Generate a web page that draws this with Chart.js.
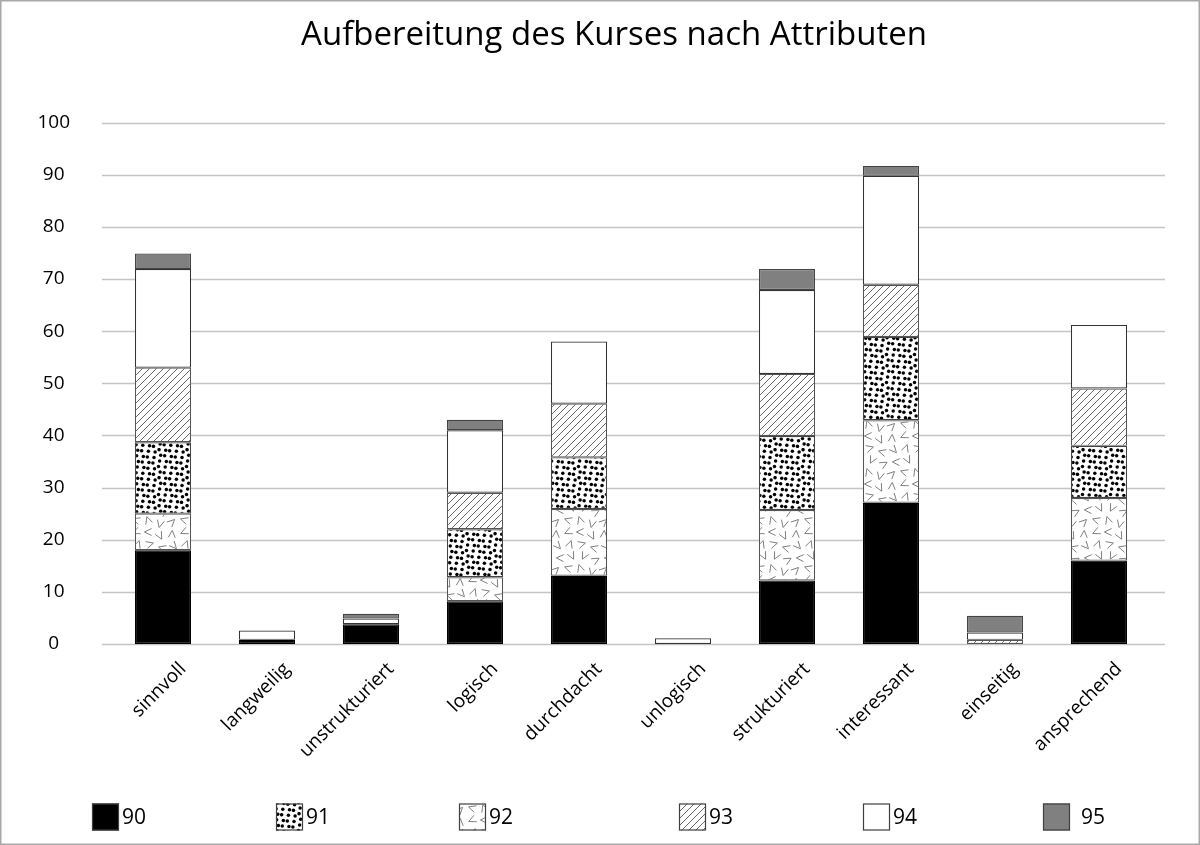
<!DOCTYPE html>
<html><head><meta charset="utf-8">
<script src="https://cdn.jsdelivr.net/npm/chart.js@4.4.1/dist/chart.umd.min.js"></script>
<style>html,body{margin:0;padding:0;background:#fff;} canvas{display:block}</style>
</head><body>
<canvas id="c" width="1200" height="845"></canvas>
<script>
const chartTitle = 'Aufbereitung des Kurses nach Attributen';
const categories = ['sinnvoll','langweilig','unstrukturiert','logisch','durchdacht','unlogisch','strukturiert','interessant','einseitig','ansprechend'];
const yTickValues = [0,10,20,30,40,50,60,70,80,90,100];
const s90 = [18, 0.8, 3.8, 8.2, 13.1, null, 12.2, 27.1, null, 16];
const s91 = [13.7, null, null, 9.2, 9.9, null, 14.2, 16, null, 10];
const s92 = [7, null, null, 4.6, 12.8, null, 13.5, 15.8, null, 12];
const s93 = [14.3, null, null, 7, 10.3, null, 11.9, 10, 0.8, 11];
const s94 = [18.9, 1.8, 1.1, 12, 11.9, 1.1, 16.1, 20.9, 1.4, 12.2];
const s95 = [3, null, 0.9, 2, null, null, 4, 1.9, 3.2, null];

const FONT = "'Open Sans', 'DejaVu Sans', sans-serif";

function tile(w, h, draw) {
  const c = document.createElement('canvas');
  c.width = w; c.height = h;
  const g = c.getContext('2d');
  g.fillStyle = '#fff'; g.fillRect(0, 0, w, h);
  draw(g, w, h);
  return c;
}
const ctx = document.getElementById('c').getContext('2d');

const dotPattern = ctx.createPattern(tile(28, 28, (g) => {
  g.fillStyle = '#000';
  for (let i = 0; i < 5; i++) for (let j = 0; j < 5; j++) {
    const jx = ((i * 7 + j * 13) % 5 - 2) * 0.55;
    const jy = ((i * 11 + j * 5 + 2) % 5 - 2) * 0.55;
    g.beginPath();
    g.arc(2.8 + i * 5.6 + jx, 2.8 + j * 5.6 + jy, 1.75, 0, Math.PI * 2);
    g.fill();
  }
}), 'repeat');

const chevronPattern = ctx.createPattern(tile(48, 48, (g, w, h) => {
  g.strokeStyle = '#707070'; g.lineWidth = 0.9;
  for (let i = 0; i < 4; i++) for (let j = 0; j < 4; j++) {
    const cx = 6 + i * 12 + ((i * 3 + j * 7) % 3 - 1) * 2;
    const cy = 6 + j * 12 + ((i * 5 + j * 3) % 3 - 1) * 2;
    const th = (((i * 5 + j * 3) % 8) * 45 + (i * 17 + j * 29) % 30) * Math.PI / 180;
    const a = 0.45, L = 8;
    const x0 = cx - L * 0.45 * Math.cos(th), y0 = cy - L * 0.45 * Math.sin(th);
    for (let ox = -w; ox <= w; ox += w) for (let oy = -h; oy <= h; oy += h) {
      g.beginPath();
      g.moveTo(x0 + ox + L * Math.cos(th - a), y0 + oy + L * Math.sin(th - a));
      g.lineTo(x0 + ox, y0 + oy);
      g.lineTo(x0 + ox + L * Math.cos(th + a), y0 + oy + L * Math.sin(th + a));
      g.stroke();
    }
  }
}), 'repeat');

const hatchPattern = ctx.createPattern(tile(7, 7, (g) => {
  g.strokeStyle = '#555'; g.lineWidth = 0.9;
  g.beginPath();
  g.moveTo(0, 7); g.lineTo(7, 0);
  g.moveTo(-1, 1); g.lineTo(1, -1);
  g.moveTo(6, 8); g.lineTo(8, 6);
  g.stroke();
}), 'repeat');

// stacking order as in the picture: 90 bottom, then 92, 91, 93, 94, 95
const datasets = [
  { label: '90', data: s90, backgroundColor: '#000000', borderColor: '#000000' },
  { label: '92', data: s92, backgroundColor: chevronPattern, borderColor: '#555555' },
  { label: '91', data: s91, backgroundColor: dotPattern, borderColor: '#444444' },
  { label: '93', data: s93, backgroundColor: hatchPattern, borderColor: '#555555' },
  { label: '94', data: s94, backgroundColor: '#ffffff', borderColor: '#333333' },
  { label: '95', data: s95, backgroundColor: '#808080', borderColor: '#444444' }
].map(d => Object.assign(d, { borderWidth: 1.2, borderSkipped: false, barPercentage: 1, categoryPercentage: 0.54 }));

const gridPlugin = {
  id: 'extGrid',
  beforeDatasetsDraw(chart) {
    const y = chart.scales.y, a = chart.chartArea, c = chart.ctx;
    c.save();
    c.strokeStyle = '#c4c4c4'; c.lineWidth = 1.4;
    y.ticks.forEach(t => {
      const py = Math.round(y.getPixelForValue(t.value)) + 0.5;
      c.beginPath(); c.moveTo(a.left - 9, py); c.lineTo(a.right + 14, py); c.stroke();
    });
    c.restore();
  }
};

const legendX = [92, 276, 459, 679, 863, 1043];
const legendPlugin = {
  id: 'spreadLegend',
  afterDraw(chart) {
    const c = chart.ctx;
    const items = chart.data.datasets.slice().sort((p, q) => Number(p.label) - Number(q.label));
    c.save();
    c.font = '21px ' + FONT;
    c.textBaseline = 'middle'; c.textAlign = 'left';
    items.forEach((ds, i) => {
      const x = legendX[i], yc = 817, s = 27;
      c.fillStyle = ds.backgroundColor;
      c.fillRect(x, yc - s / 2, s, s);
      c.strokeStyle = '#404040'; c.lineWidth = 1.2;
      c.strokeRect(x + 0.5, yc - s / 2 + 0.5, s - 1, s - 1);
      c.fillStyle = '#000';
      c.fillText(ds.label, x + s + (ds.label === '95' ? 11 : 3), yc + 1);
    });
    c.strokeStyle = '#a8a8a8'; c.lineWidth = 1.5;
    c.strokeRect(0.75, 0.75, chart.width - 1.5, chart.height - 1.5);
    c.restore();
  }
};

new Chart(ctx, {
  type: 'bar',
  data: { labels: categories, datasets },
  plugins: [gridPlugin, legendPlugin],
  options: {
    responsive: false,
    animation: false,
    layout: { padding: { left: 28, right: 0, top: 0, bottom: 58 } },
    plugins: {
      legend: { display: false },
      tooltip: { enabled: false },
      title: {
        display: true, text: chartTitle, color: '#000',
        font: { family: FONT, size: 33, weight: 'normal' },
        padding: { top: 16, bottom: 67 }
      }
    },
    scales: {
      x: {
        stacked: true,
        grid: { display: false, drawTicks: false },
        border: { display: false },
        ticks: { color: '#000', font: { family: FONT, size: 19 }, maxRotation: 45, minRotation: 45, autoSkip: false, padding: 14, labelOffset: 20 },
        afterFit: s => { s.height = 143; }
      },
      y: {
        stacked: true, min: 0, max: 100,
        grid: { display: false, drawTicks: false },
        border: { display: false },
        ticks: { color: '#000', font: { family: FONT, size: 19 }, crossAlign: 'center', padding: 41 },
        afterBuildTicks: s => { s.ticks = yTickValues.map(v => ({ value: v })); },
        afterFit: s => { s.width = 83; }
      },
      rightSpace: {
        type: 'linear', position: 'right', display: true,
        grid: { display: false, drawTicks: false },
        border: { display: false },
        ticks: { display: false },
        afterFit: s => { s.width = 49; }
      }
    }
  }
});
</script>
</body></html>
